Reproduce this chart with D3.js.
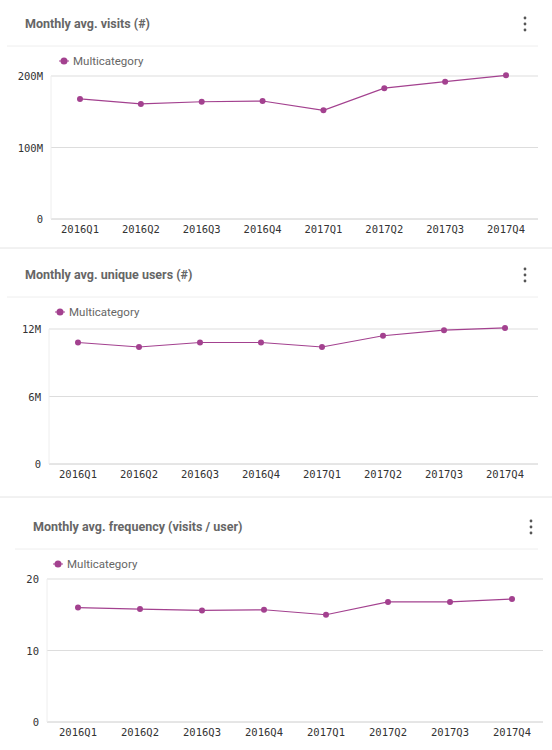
<!DOCTYPE html>
<html><head><meta charset="utf-8">
<script src="https://cdn.jsdelivr.net/npm/d3@7"></script>
<style>body{margin:0;background:#fff}svg{display:block}</style>
</head><body>
<script>
var quarters = ['2016Q1','2016Q2','2016Q3','2016Q4','2017Q1','2017Q2','2017Q3','2017Q4'];
var visits = [168, 161, 164, 165, 152, 183, 192, 201];      // millions
var users = [10.8, 10.4, 10.8, 10.8, 10.4, 11.4, 11.9, 12.1]; // millions
var freq = [16.0, 15.8, 15.6, 15.7, 15.0, 16.8, 16.8, 17.2];
var visitTicks = [0, 100, 200];
var userTicks = [0, 6, 12];
var freqTicks = [0, 10, 20];

var purple = '#a3418f';
var svg = d3.select('body').append('svg').attr('width', 552).attr('height', 750);

// panel separators
svg.selectAll('line.sep').data([248, 497]).enter().append('line')
  .attr('x1', 0).attr('x2', 552).attr('y1', d => d).attr('y2', d => d)
  .attr('stroke', '#e4e4e4');

function panel(o) {
  var g = svg.append('g');
  g.append('text').attr('x', o.titleX).attr('y', o.titleY).text(o.title)
    .attr('font-family', 'Roboto, sans-serif').attr('font-weight', 'bold')
    .attr('font-size', 12.5).attr('fill', '#666');
  // menu dots
  g.selectAll('circle.m').data([-6, 0, 6]).enter().append('circle')
    .attr('cx', o.menuX).attr('cy', d => o.titleY - 4 + d).attr('r', 1.4).attr('fill', '#555');
  g.append('line').attr('x1', o.titleX - 18).attr('x2', 538)
    .attr('y1', o.titleY + 18).attr('y2', o.titleY + 18).attr('stroke', '#eee');
  // legend
  var ly = o.titleY + 33;
  g.append('line').attr('x1', o.legX - 5).attr('x2', o.legX + 5)
    .attr('y1', ly).attr('y2', ly).attr('stroke', purple);
  g.append('circle').attr('cx', o.legX).attr('cy', ly).attr('r', 3.5).attr('fill', purple);
  g.append('text').attr('x', o.legX + 9).attr('y', ly + 4).text('Multicategory')
    .attr('font-family', 'Roboto, sans-serif').attr('font-size', 11.5).attr('fill', '#666');

  var x = d3.scalePoint().domain(quarters).range([o.x0, o.x1]);
  var y = d3.scaleLinear().domain([0, o.ticks[2]]).range([o.bottom, o.top]);

  g.selectAll('line.grid').data(o.ticks).enter().append('line')
    .attr('x1', o.axisX).attr('x2', o.gridR).attr('y1', d => y(d)).attr('y2', d => y(d))
    .attr('stroke', (d, i) => i === 0 ? '#ccc' : '#ddd');
  g.append('line').attr('x1', o.axisX).attr('x2', o.axisX).attr('y1', o.top).attr('y2', o.bottom)
    .attr('stroke', '#eee');
  g.selectAll('text.yl').data(o.ticks).enter().append('text')
    .attr('x', o.axisX - 8).attr('y', d => y(d) + 4).attr('text-anchor', 'end')
    .text(d => d === 0 ? '0' : d + o.suffix)
    .attr('font-family', 'DejaVu Sans Mono, monospace').attr('font-size', 10.5).attr('fill', '#333');
  g.selectAll('text.xl').data(quarters).enter().append('text')
    .attr('x', d => x(d)).attr('y', o.bottom + 14).attr('text-anchor', 'middle').text(d => d)
    .attr('font-family', 'DejaVu Sans Mono, monospace').attr('font-size', 10.5).attr('fill', '#333');

  g.append('path').datum(o.values)
    .attr('d', d3.line().x((d, i) => x(quarters[i])).y(d => y(d)))
    .attr('fill', 'none').attr('stroke', purple).attr('stroke-width', 1.2);
  g.selectAll('circle.p').data(o.values).enter().append('circle')
    .attr('cx', (d, i) => x(quarters[i])).attr('cy', d => y(d)).attr('r', 3).attr('fill', purple);
}

panel({title: 'Monthly avg. visits (#)', titleX: 25, titleY: 28, menuX: 525, legX: 64,
  values: visits, ticks: visitTicks, suffix: 'M', top: 76, bottom: 219,
  axisX: 51, gridR: 538, x0: 80, x1: 506});
panel({title: 'Monthly avg. unique users (#)', titleX: 25, titleY: 279, menuX: 525, legX: 60,
  values: users, ticks: userTicks, suffix: 'M', top: 329, bottom: 464,
  axisX: 49, gridR: 538, x0: 78, x1: 505});
panel({title: 'Monthly avg. frequency (visits / user)', titleX: 33, titleY: 531, menuX: 531, legX: 58,
  values: freq, ticks: freqTicks, suffix: '', top: 579, bottom: 722,
  axisX: 47, gridR: 543, x0: 78, x1: 512});
</script>
</body></html>
